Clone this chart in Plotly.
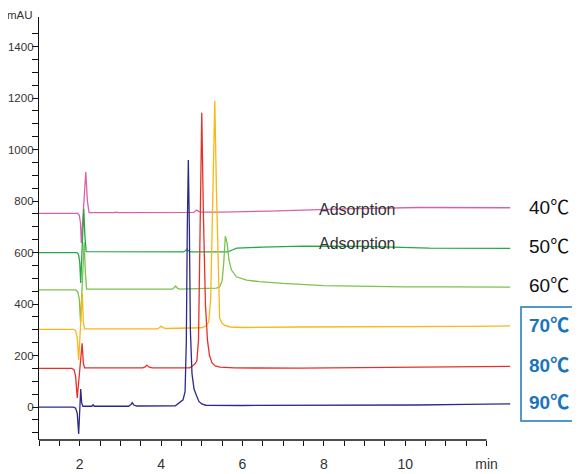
import plotly.graph_objects as go

# ---- data (time in min, signal in mAU) ----
t_40 = [1.0, 1.95, 1.99, 2.02, 2.04, 2.10, 2.15, 2.19, 2.23, 2.85, 2.90, 2.95, 4.80, 4.87, 4.92, 5.00, 5.5, 6.67, 7.4, 8.5, 10.35, 12.58]
v_40 = [752, 752, 745, 715, 637, 800, 913, 800, 755, 755, 757, 755, 756, 765, 760, 757, 757, 761, 765, 770, 775, 774]

t_50 = [1.0, 1.93, 1.97, 2.00, 2.025, 2.06, 2.10, 2.13, 2.16, 4.55, 4.60, 4.64, 4.68, 4.75, 5.64, 5.75, 5.86, 6.5, 7.5, 9.0, 10.0, 10.6, 12.58]
v_50 = [600, 600, 593, 565, 482, 640, 770, 660, 604, 603, 607, 614, 605, 603, 603, 610, 617, 621, 625, 624, 620, 617, 616]

t_60 = [1.0, 1.90, 1.95, 1.99, 2.02, 2.07, 2.11, 2.14, 2.17, 4.28, 4.33, 4.36, 4.40, 4.46, 5.36, 5.44, 5.50, 5.54, 5.58, 5.62, 5.67, 5.73, 5.85, 6.10, 6.42, 7.0, 8.0, 9.0, 10.0, 11.0, 12.58]
v_60 = [455, 455, 448, 420, 330, 500, 640, 520, 458, 458, 464, 470, 462, 458, 462, 467, 490, 560, 664, 640, 571, 532, 506, 493, 487, 480, 472, 469, 467, 467, 466]

t_70 = [1.0, 1.85, 1.90, 1.94, 1.975, 2.02, 2.065, 2.09, 2.12, 3.90, 3.96, 4.00, 4.05, 4.12, 5.00, 5.10, 5.17, 5.22, 5.26, 5.32, 5.36, 5.41, 5.44, 5.50, 5.56, 5.70, 6.0, 7.4, 9.0, 10.3, 11.5, 12.3, 12.58]
v_70 = [302, 302, 296, 270, 183, 330, 443, 330, 304, 304, 308, 314, 308, 305, 308, 315, 330, 420, 750, 1190, 850, 480, 345, 325, 318, 311, 309, 311, 311, 312, 313, 314, 315]

t_80 = [1.0, 1.80, 1.86, 1.90, 1.94, 2.00, 2.06, 2.09, 2.12, 3.55, 3.61, 3.65, 3.70, 3.78, 4.70, 4.78, 4.84, 4.88, 4.92, 4.96, 5.00, 5.04, 5.09, 5.14, 5.19, 5.25, 5.33, 5.45, 5.8, 7.4, 9.0, 10.3, 11.5, 12.58]
v_80 = [150, 150, 145, 120, 35, 140, 248, 170, 152, 152, 156, 163, 156, 152, 152, 160, 169, 180, 260, 700, 1143, 750, 400, 260, 200, 172, 160, 155, 152, 151, 153, 154, 156, 158]

t_90 = [1.0, 1.85, 1.90, 1.94, 1.975, 2.00, 2.025, 2.05, 2.08, 2.30, 2.33, 2.36, 3.20, 3.26, 3.29, 3.33, 3.40, 4.35, 4.42, 4.48, 4.54, 4.59, 4.62, 4.645, 4.67, 4.695, 4.72, 4.76, 4.81, 4.87, 4.93, 5.00, 5.10, 6.0, 7.4, 9.0, 10.3, 11.5, 12.58]
v_90 = [0, 0, -4, -25, -105, 10, 70, 15, 3, 3, 9, 3, 3, 10, 17, 8, 4, 5, 14, 20, 28, 60, 250, 700, 960, 700, 300, 130, 70, 45, 22, 12, 7, 6, 6, 7, 8, 10, 12]

series_labels = ["40℃", "50℃", "60℃", "70℃", "80℃", "90℃"]
label_levels = [777, 625, 474, 315, 163, 16]
series_colors = ["#d862aa", "#27a846", "#7cc24e", "#fbb617", "#e8302a", "#2b2a8c"]
label_bold = [False, False, False, True, True, True]

x_tick_vals = [2, 4, 6, 8, 10, 12]
x_tick_text = ["2", "4", "6", "8", "10", "min"]
y_tick_vals = [0, 200, 400, 600, 800, 1000, 1200, 1400]

adsorption_notes = [("Adsorption", 8.83, 769), ("Adsorption", 8.83, 637)]

series = [(t_40, v_40), (t_50, v_50), (t_60, v_60), (t_70, v_70), (t_80, v_80), (t_90, v_90)]

fig = go.Figure()
for (tt, vv), name, col in zip(series, series_labels, series_colors):
    fig.add_trace(go.Scatter(x=tt, y=vv, mode="lines", name=name,
                             line=dict(color=col, width=1.3), showlegend=False))

x_font = dict(family="Liberation Sans, Arial", size=14, color="#333333")
y_font = dict(family="Liberation Sans, Arial", size=11.5, color="#333333")

# page body has an 8px default margin, so the figure is offset by 8px
fig.update_layout(
    width=572, height=466,
    margin=dict(l=31, r=69, t=9, b=34, autoexpand=False),
    paper_bgcolor="white", plot_bgcolor="white",
    xaxis=dict(range=[1, 12.6], showgrid=False, zeroline=False, showline=False, automargin=False,
               tickmode="array", tickvals=x_tick_vals, ticktext=x_tick_text,
               ticks="outside", ticklen=5, tickwidth=1.2, tickcolor="#111111",
               tickfont=x_font, ticklabelstandoff=6,
               minor=dict(tickmode="array", tickvals=[1 + 0.5 * i for i in range(23)],
                          ticks="outside", ticklen=5, tickwidth=1.2, tickcolor="#111111")),
    yaxis=dict(range=[-128, 1515], showgrid=False, zeroline=False, showline=True, automargin=False,
               linecolor="#111111", linewidth=1.3,
               tickmode="array", tickvals=y_tick_vals,
               ticks="outside", ticklen=6, tickwidth=1.2, tickcolor="#111111",
               tickfont=y_font, ticklabelstandoff=-4,
               minor=dict(tickmode="array", tickvals=[-100 + 50 * i for i in range(32)],
                          ticks="outside", ticklen=6, tickwidth=1.2, tickcolor="#111111")),
)

# x-axis line only spanning 1..12 min
fig.add_shape(type="line", xref="x", yref="paper", x0=1, x1=12, y0=0, y1=0,
              line=dict(color="#111111", width=1.3))

# unit label on y-axis
fig.add_annotation(xref="paper", yref="paper", x=-0.0085, y=1.005, xanchor="right", yanchor="middle",
                   text="mAU", showarrow=False, font=y_font)

for txt, xx, yy in adsorption_notes:
    fig.add_annotation(x=xx, y=yy, text=txt, showarrow=False, xanchor="center", yanchor="middle",
                       font=dict(family="Liberation Sans, Arial", size=16, color="#333333"))

for name, lvl, bold in zip(series_labels, label_levels, label_bold):
    fig.add_annotation(xref="paper", yref="y", x=1.0339, y=lvl,
                       text=("<b>%s</b>" % name) if bold else name, showarrow=False,
                       xanchor="left", yanchor="middle",
                       font=dict(family="Liberation Sans, Arial, Noto Sans CJK SC", size=19,
                                 color="#1b75bb" if bold else "#111111"))

fig.add_shape(type="rect", xref="paper", yref="paper", x0=1.0212, x1=1.18, y0=0.0449, y1=0.3144,
              line=dict(color="#1b75bb", width=1.5), fillcolor="rgba(0,0,0,0)")

fig.write_html("out.html")
